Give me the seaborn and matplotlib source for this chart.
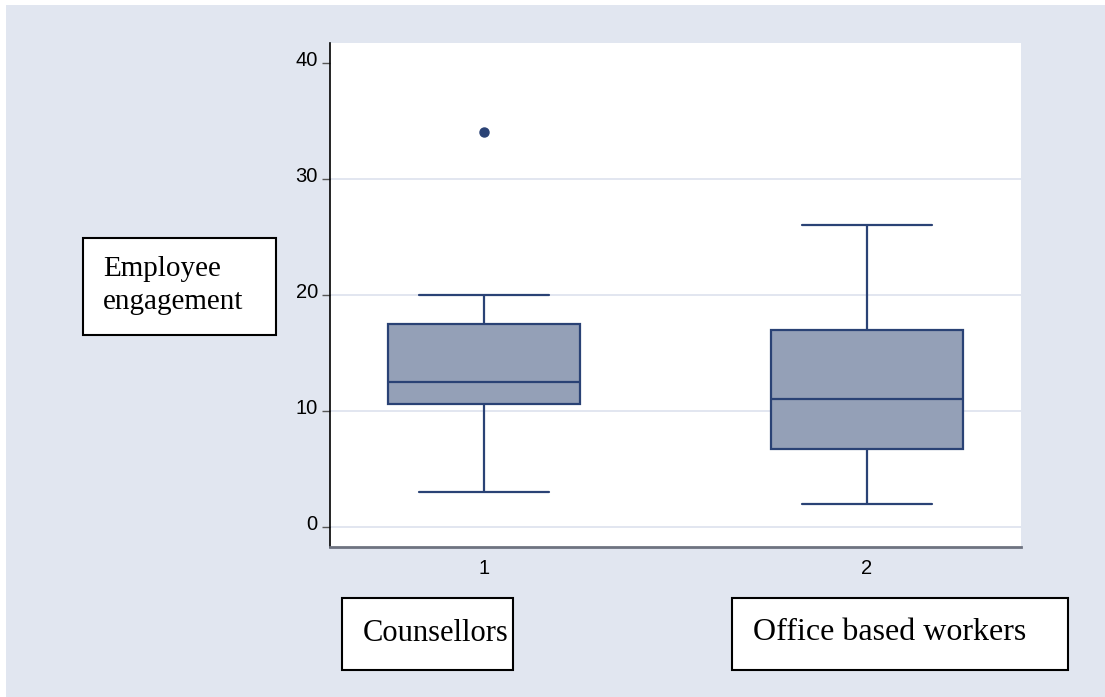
import matplotlib
matplotlib.use("Agg")
import matplotlib.pyplot as plt
import pandas as pd
import seaborn as sns
from matplotlib.patches import Rectangle
from matplotlib.transforms import ScaledTranslation

# Group codes on the x axis and the names written under them
groups = [1, 2]
group_names = ["Counsellors", "Office based workers"]

# Box summaries: lower whisker, Q1, median, Q3, upper whisker
counsellors_summary = [3, 10.6, 12.5, 17.5, 20]
counsellors_outliers = [34]
office_summary = [2, 6.7, 11, 17, 26]
office_outliers = []

y_ticks = [0, 10, 20, 30, 40]
y_title_lines = ["Employee", "engagement"]


def sample_from_summary(summary, outliers):
    """Observations whose quartiles and whiskers reproduce the summary."""
    lo, q1, med, q3, hi = summary
    return [lo, q1, q1, med, med, q3, q3, hi] + list(outliers)


df = pd.concat([
    pd.DataFrame({"group": groups[0],
                  "engagement": sample_from_summary(counsellors_summary, counsellors_outliers)}),
    pd.DataFrame({"group": groups[1],
                  "engagement": sample_from_summary(office_summary, office_outliers)}),
], ignore_index=True)

BG = "#e1e6f0"
GRID = "#e2e6f0"
FILL = "#94a0b7"
EDGE = "#2a4275"

sns.set_style("white")
plt.rcParams["font.family"] = ["Liberation Sans", "DejaVu Sans"]
plt.rcParams["text.color"] = "black"

W, H, DPI = 1105, 697, 100
fig = plt.figure(figsize=(W / DPI, H / DPI), dpi=DPI, facecolor="white")


def fx(px):
    return px / W


def fy(py):
    return 1 - py / H


# Light backdrop behind everything
fig.add_artist(Rectangle((fx(6), 0), 1 - fx(6), fy(5), transform=fig.transFigure,
                         facecolor=BG, edgecolor="none", zorder=-1))

left, right, top, bottom = 330, 1021, 42.7, 546.7
ax = fig.add_axes([fx(left), fy(bottom), fx(right) - fx(left), fy(top) - fy(bottom)])
ax.set_facecolor("white")

for v in y_ticks[:-1]:
    ax.axhline(v, color=GRID, lw=1.4, zorder=0)

sns.boxplot(data=df, x="group", y="engagement", order=groups, width=0.5,
            color=FILL, saturation=1, linecolor=EDGE, linewidth=1.6,
            capwidths=0.338, whis=1.5,
            flierprops=dict(marker="o", markerfacecolor=EDGE, markeredgecolor=EDGE,
                            markersize=6.5),
            ax=ax)

ax.set_xlim(-0.402, 1.402)
ax.set_ylim(-1.72, 41.72)
ax.set_yticks(y_ticks)
ax.set_yticklabels([str(t) for t in y_ticks])
ax.set_xlabel("")
ax.set_ylabel("")

ax.tick_params(axis="y", left=True, length=5.8, width=1, color="#555555", pad=3,
               labelsize=14.5, labelcolor="black")
ax.tick_params(axis="x", bottom=False, length=0, pad=9, labelsize=14.5, labelcolor="black")

for lbl in ax.get_yticklabels():
    lbl.set_transform(lbl.get_transform() + ScaledTranslation(0, 4.5 / DPI, fig.dpi_scale_trans))

for side in ("top", "right"):
    ax.spines[side].set_visible(False)
ax.spines["left"].set_color("black")
ax.spines["left"].set_linewidth(1.2)
ax.spines["bottom"].set_color("#6e7380")
ax.spines["bottom"].set_linewidth(2)


def label_box(x0, y0, x1, y1):
    fig.add_artist(Rectangle((fx(x0), fy(y1)), fx(x1) - fx(x0), fy(y0) - fy(y1),
                             transform=fig.transFigure, facecolor="white",
                             edgecolor="black", lw=1.5, zorder=2))


serif = ["Liberation Serif", "DejaVu Serif"]

# Y-axis title box
label_box(83, 238, 276, 335)
fig.text(fx(103), fy(276), y_title_lines[0], family=serif, fontsize=21,
         color="black", va="baseline", ha="left", zorder=3)
fig.text(fx(103), fy(309), y_title_lines[1], family=serif, fontsize=21,
         color="black", va="baseline", ha="left", zorder=3)

# Group name boxes under the axis
label_box(342, 598, 513, 670)
fig.text(fx(363), fy(641), group_names[0], family=serif, fontsize=22,
         color="black", va="baseline", ha="left", zorder=3)
label_box(732, 598, 1068, 670)
fig.text(fx(753), fy(640), group_names[1], family=serif, fontsize=23,
         color="black", va="baseline", ha="left", zorder=3)

fig.savefig("out.png", dpi=DPI)
